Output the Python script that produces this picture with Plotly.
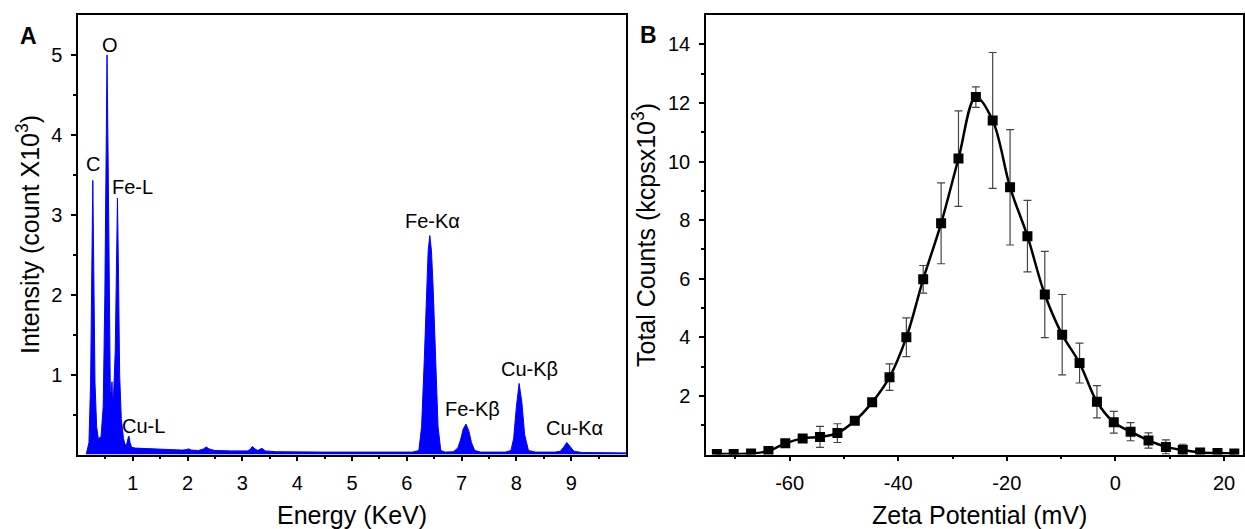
import plotly.graph_objects as go

W, H = 1245, 529

# ---------------- Panel A: EDX spectrum ----------------
energy = [0.15, 0.20, 0.23, 0.25, 0.27, 0.29, 0.31, 0.34, 0.37, 0.42, 0.46, 0.49, 0.51, 0.53,
          0.55, 0.57, 0.59, 0.61, 0.62, 0.63, 0.65, 0.68, 0.70, 0.72, 0.74, 0.76, 0.79, 0.83,
          0.86, 0.89, 0.92, 0.93, 0.95, 0.98, 1.05, 1.30, 1.60, 1.90, 1.97, 2.02, 2.07, 2.20,
          2.29, 2.34, 2.39, 2.50, 2.80, 3.10, 3.15, 3.18, 3.23, 3.28, 3.33, 3.36, 3.42, 3.60,
          4.50, 5.50, 6.10, 6.22, 6.27, 6.32, 6.36, 6.39, 6.42, 6.45, 6.48, 6.52, 6.57, 6.62,
          6.70, 6.85, 6.93, 6.98, 7.03, 7.08, 7.13, 7.18, 7.24, 7.35, 7.80, 7.90, 7.95, 8.00,
          8.05, 8.10, 8.15, 8.22, 8.35, 8.70, 8.80, 8.86, 8.92, 8.98, 9.05, 9.20, 10.0]
intensity = [0.0, 0.15, 0.9, 2.2, 3.43, 2.2, 0.9, 0.35, 0.2, 0.22, 0.6, 2.0, 3.8, 5.0,
             3.7, 1.6, 0.75, 0.8, 0.91, 0.7, 0.75, 1.3, 2.4, 3.21, 2.2, 1.0, 0.45, 0.2,
             0.12, 0.13, 0.22, 0.23, 0.15, 0.09, 0.08, 0.07, 0.06, 0.055, 0.06, 0.07, 0.055, 0.05,
             0.07, 0.095, 0.07, 0.05, 0.045, 0.045, 0.07, 0.1, 0.07, 0.05, 0.07, 0.075, 0.045, 0.035,
             0.03, 0.03, 0.03, 0.05, 0.35, 1.2, 2.1, 2.55, 2.74, 2.55, 2.1, 1.2, 0.35, 0.05,
             0.03, 0.035, 0.08, 0.18, 0.32, 0.38, 0.3, 0.15, 0.05, 0.03, 0.03, 0.05, 0.2, 0.6,
             0.89, 0.65, 0.25, 0.05, 0.03, 0.03, 0.04, 0.09, 0.15, 0.1, 0.04, 0.025, 0.02]

peak_labels = ["C", "O", "Fe-L", "Cu-L", "Fe-Kα", "Fe-Kβ", "Cu-Kβ", "Cu-Kα"]
peak_label_x = [0.28, 0.576, 0.99, 1.2, 6.47, 7.2, 8.24, 9.06]
peak_label_y = [3.63, 5.13, 3.35, 0.36, 2.92, 0.57, 1.07, 0.33]

a_xticks = [1, 2, 3, 4, 5, 6, 7, 8, 9]
a_xminor = [0.5, 1.5, 2.5, 3.5, 4.5, 5.5, 6.5, 7.5, 8.5, 9.5]
a_yticks = [1, 2, 3, 4, 5]
a_yminor = [0.5, 1.5, 2.5, 3.5, 4.5]

# ---------------- Panel B: zeta potential ----------------
zeta = [-73.4, -70.3, -67.1, -63.9, -60.8, -57.6, -54.4, -51.2, -48.0, -44.8, -41.6, -38.5,
        -35.4, -32.1, -28.9, -25.7, -22.6, -19.4, -16.2, -13.0, -9.8, -6.6, -3.4, -0.3,
        2.8, 6.1, 9.3, 12.4, 15.6, 18.8, 21.9]
counts = [0.02, 0.02, 0.03, 0.12, 0.38, 0.55, 0.60, 0.73, 1.15, 1.78, 2.64, 4.00,
          5.98, 7.89, 10.1, 12.2, 11.4, 9.12, 7.45, 5.46, 4.09, 3.12, 1.80, 1.10,
          0.78, 0.48, 0.26, 0.15, 0.07, 0.05, 0.03]
errors = [0.0, 0.0, 0.0, 0.05, 0.1, 0.1, 0.36, 0.32, 0.1, 0.12, 0.45, 0.66,
          0.47, 1.38, 1.63, 0.35, 2.32, 1.97, 1.22, 1.47, 1.37, 0.68, 0.55, 0.37,
          0.31, 0.26, 0.24, 0.2, 0.05, 0.03, 0.02]

b_xticks = [-60, -40, -20, 0, 20]
b_xticklabels = ["-60", "-40", "-20", "0", "20"]
b_xminor = [-70, -50, -30, -10, 10]
b_yticks = [2, 4, 6, 8, 10, 12, 14]
b_yminor = [1, 3, 5, 7, 9, 11, 13]

FONT = "Liberation Sans, Arial, sans-serif"

fig = go.Figure()

fig.add_trace(go.Scatter(
    x=energy, y=intensity, mode="lines", fill="tozeroy",
    line=dict(color="#0000FF", width=1), fillcolor="#0000FF",
    xaxis="x", yaxis="y", showlegend=False))

fig.add_trace(go.Scatter(
    x=zeta, y=counts, mode="lines", line=dict(color="black", width=2.5, shape="spline"),
    xaxis="x2", yaxis="y2", showlegend=False))
fig.add_trace(go.Scatter(
    x=zeta, y=counts, mode="markers",
    marker=dict(symbol="square", size=10, color="black"),
    error_y=dict(type="data", array=errors, visible=True, color="#444444",
                 thickness=1.2, width=4),
    xaxis="x2", yaxis="y2", showlegend=False))

def px_x(p):
    return p / W

def px_y(p):
    return 1 - p / H

y_dom = [px_y(454.5), px_y(15)]

common_axis = dict(showline=True, linecolor="black", linewidth=1.5, mirror=True,
                   ticks="outside", ticklen=5, tickwidth=1.5, tickcolor="black",
                   showgrid=False, zeroline=False,
                   tickfont=dict(family=FONT, size=20, color="black"))

fig.update_layout(
    width=W, height=H, margin=dict(l=0, r=0, t=0, b=0),
    paper_bgcolor="white", plot_bgcolor="white",
    font=dict(family=FONT, color="black"),
    xaxis=dict(domain=[px_x(78), px_x(626)], range=[0, 10], anchor="y",
               tickmode="array", tickvals=a_xticks, ticklabelstandoff=5,
               minor=dict(tickmode="array", tickvals=a_xminor, ticks="outside", ticklen=3,
                          tickwidth=1.5, tickcolor="black"),
               **common_axis),
    yaxis=dict(domain=y_dom, range=[0, 5.5], anchor="x",
               tickmode="array", tickvals=a_yticks, ticklabelstandoff=5,
               minor=dict(tickmode="array", tickvals=a_yminor, ticks="outside", ticklen=3,
                          tickwidth=1.5, tickcolor="black"),
               **common_axis),
    xaxis2=dict(domain=[px_x(706), px_x(1243)], range=[-75.4, 23.5], anchor="y2",
                tickmode="array", tickvals=b_xticks, ticktext=b_xticklabels,
                ticklabelstandoff=5,
                minor=dict(tickmode="array", tickvals=b_xminor, ticks="outside", ticklen=3,
                           tickwidth=1.5, tickcolor="black"),
                **common_axis),
    yaxis2=dict(domain=y_dom, range=[0, 15], anchor="x2",
                tickmode="array", tickvals=b_yticks, ticklabelstandoff=5,
                minor=dict(tickmode="array", tickvals=b_yminor, ticks="outside", ticklen=3,
                           tickwidth=1.5, tickcolor="black"),
                **common_axis),
)

annotations = []
for t, x, y in zip(peak_labels, peak_label_x, peak_label_y):
    annotations.append(dict(text=t, x=x, y=y, xref="x", yref="y", showarrow=False,
                            xanchor="center", yanchor="middle",
                            font=dict(family=FONT, size=20, color="black")))

def paper_text(text, x, y, size, angle=0, bold=False):
    return dict(text=f"<b>{text}</b>" if bold else text, x=px_x(x), y=px_y(y),
                xref="paper", yref="paper", showarrow=False, textangle=angle,
                xanchor="center", yanchor="middle",
                font=dict(family=FONT, size=size, color="black"))

annotations += [
    paper_text("A", 28.5, 36.5, 23, bold=True),
    paper_text("B", 648, 35, 23, bold=True),
    paper_text("Energy (KeV)", 352, 515, 25),
    paper_text("Zeta Potential (mV)", 979, 515, 25),
    paper_text("Intensity (count X10<sup>3</sup>)", 28, 235, 25, angle=-90),
    paper_text("Total Counts (kcpsx10<sup>3</sup>)", 644, 235, 25, angle=-90),
]
fig.update_layout(annotations=annotations)

fig.write_html("out.html", config={"displayModeBar": False},
               post_script="document.body.style.margin='0';document.body.style.overflow='hidden';")
